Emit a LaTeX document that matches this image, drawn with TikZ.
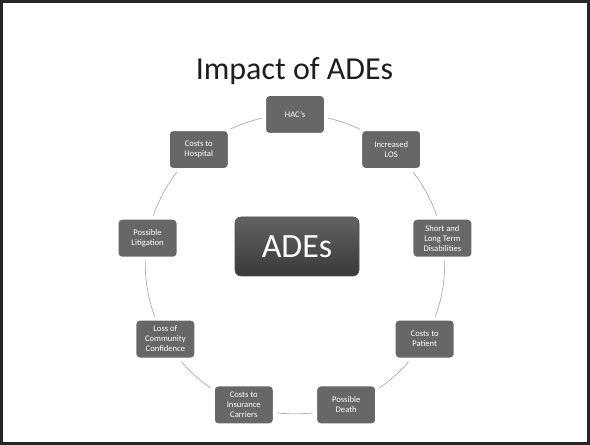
\documentclass[tikz,border=0pt]{standalone}
\usepackage{fontspec}
\setmainfont{Carlito}
\usetikzlibrary{calc}
\begin{document}
\begin{tikzpicture}[x=1pt,y=1pt,
  item/.style={rectangle, rounded corners=5pt, draw=white, line width=4pt,
    fill=boxgray, minimum width=62pt, minimum height=41pt, inner sep=0pt,
    text=white, font=\fontsize{8.6}{10}\selectfont, align=center},
  ring/.style={draw=ringgray, line width=0.6pt},
  hub/.style={rectangle, rounded corners=6pt, draw=hubedge, line width=0.6pt,
    top color=hubtop, bottom color=hubbot, minimum width=124pt, minimum height=59pt,
    inner sep=0pt, text=white, font=\fontsize{34}{40}\selectfont},
  titletext/.style={text=titlecol, font=\fontsize{32}{38}\selectfont, inner sep=0pt, anchor=base}
]
\definecolor{boxgray}{HTML}{676767}
\definecolor{ringgray}{HTML}{A0A0A0}
\definecolor{hubtop}{HTML}{626262}
\definecolor{hubbot}{HTML}{3A3A3A}
\definecolor{hubedge}{HTML}{505050}
\definecolor{titlecol}{HTML}{1E1E1E}
\definecolor{framecol}{HTML}{262626}
\useasboundingbox (0,0) rectangle (590,445);
\draw[framecol, line width=3pt] (1.5,1.5) rectangle (588.5,443.5);
\coordinate (c) at (295,180.8);
\node[titletext] (title) at (294.5,365.7) {Impact of ADEs};
\draw[ring] (c) circle (149.7);
\node[item] (hac)  at ($(c)+(90:149.7)$)   {HAC’s};
\node[item] (los)  at ($(c)+(50:149.7)$)   {Increased\\LOS};
\node[item] (dis)  at ($(c)+(10:149.7)$)   {Short and\\Long Term\\Disabilities};
\node[item] (pat)  at ($(c)+(-30:149.7)$)  {Costs to\\Patient};
\node[item] (dth)  at ($(c)+(-70:149.7)$)  {Possible\\Death};
\node[item] (ins)  at ($(c)+(-110:149.7)$) {Costs to\\Insurance\\Carriers};
\node[item] (com)  at ($(c)+(-150:149.7)$) {Loss of\\Community\\Confidence};
\node[item] (lit)  at ($(c)+(170:149.7)$)  {Possible\\Litigation};
\node[item] (hos)  at ($(c)+(130:149.7)$)  {Costs to\\Hospital};
\node[hub] (ades) at (297,198.5) {ADEs};
\end{tikzpicture}
\end{document}
